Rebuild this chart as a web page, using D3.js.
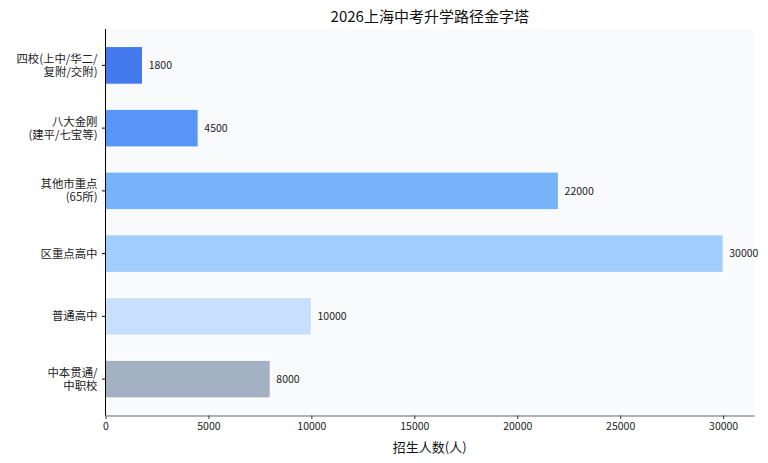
<!DOCTYPE html>
<html><head><meta charset="utf-8">
<script src="https://cdn.jsdelivr.net/npm/d3@7"></script>
<style>body{margin:0;background:#fff}svg{display:block}text{font-family:"Noto Sans CJK SC","DejaVu Sans",sans-serif}</style>
</head><body><svg id="c" width="768" height="463"></svg>
<script>
const categories = ["四校(上中/华二/\n复附/交附)", "八大金刚\n(建平/七宝等)", "其他市重点\n(65所)", "区重点高中", "普通高中", "中本贯通/\n中职校"];
const values = [1800, 4500, 22000, 30000, 10000, 8000];
const colors = ["#2563eb", "#3b82f6", "#60a5fa", "#93c5fd", "#bfdbfe", "#94a3b8"];
const xTicks = [0, 5000, 10000, 15000, 20000, 25000, 30000];
const title = "2026上海中考升学路径金字塔";
const xLabel = "招生人数(人)";

const svg = d3.select("#c");
const L = 105.5, R = 754, T = 29, B = 415.5;
const x = d3.scaleLinear().domain([0, d3.max(values) * 1.05]).range([L, R]);
const y = d3.scaleLinear().domain([-0.58, categories.length - 1 + 0.58]).range([T, B]);
const bh = (y(0.3) - y(-0.3));

svg.append("rect").attr("x", L).attr("y", T).attr("width", R - L).attr("height", B - T).attr("fill", "#f8fafc");

svg.selectAll("rect.bar").data(values).join("rect").attr("class", "bar")
  .attr("x", x(0)).attr("y", (d, i) => y(i) - bh / 2)
  .attr("width", d => x(d) - x(0)).attr("height", bh)
  .attr("fill", (d, i) => colors[i]).attr("fill-opacity", 0.85)
  .attr("stroke", "#ffffff").attr("stroke-width", 1);

svg.selectAll("text.val").data(values).join("text").attr("class", "val")
  .attr("x", d => x(d + 300)).attr("y", (d, i) => y(i)).attr("dy", "0.35em")
  .attr("font-size", 10.5).attr("fill", "#222").text(d => d);

// x axis
const xa = svg.append("g").attr("transform", `translate(0,${B})`)
  .call(d3.axisBottom(x).tickValues(xTicks).tickSize(3.5).tickSizeOuter(0).tickPadding(3.5).tickFormat(d3.format("d")));
xa.select(".domain").attr("stroke", "#666").attr("stroke-width", 1.2);
xa.selectAll(".tick line").attr("stroke", "#333");
xa.selectAll(".tick text").attr("font-size", 10.5).attr("fill", "#222").style("font-family", '"Noto Sans CJK SC", sans-serif');

// y axis
svg.append("line").attr("x1", L).attr("x2", L).attr("y1", T).attr("y2", B).attr("stroke", "#000").attr("stroke-width", 1);
categories.forEach((c, i) => {
  const yy = y(i);
  svg.append("line").attr("x1", L - 3.5).attr("x2", L).attr("y1", yy).attr("y2", yy).attr("stroke", "#000");
  const lines = c.split("\n");
  const t = svg.append("text").attr("text-anchor", "end").attr("font-size", 11.4).attr("fill", "#222");
  lines.forEach((ln, k) => {
    t.append("tspan").attr("x", L - 8).attr("y", yy + (k - (lines.length - 1) / 2) * 13).attr("dy", "0.35em").text(ln);
  });
});

svg.append("text").attr("x", (L + R) / 2).attr("y", 17).attr("dy", "0.35em").attr("text-anchor", "middle")
  .attr("font-size", 15).attr("fill", "#111").text(title);
svg.append("text").attr("x", (L + R) / 2).attr("y", 447).attr("dy", "0.35em").attr("text-anchor", "middle")
  .attr("font-size", 13).attr("fill", "#111").text(xLabel);
</script></body></html>
